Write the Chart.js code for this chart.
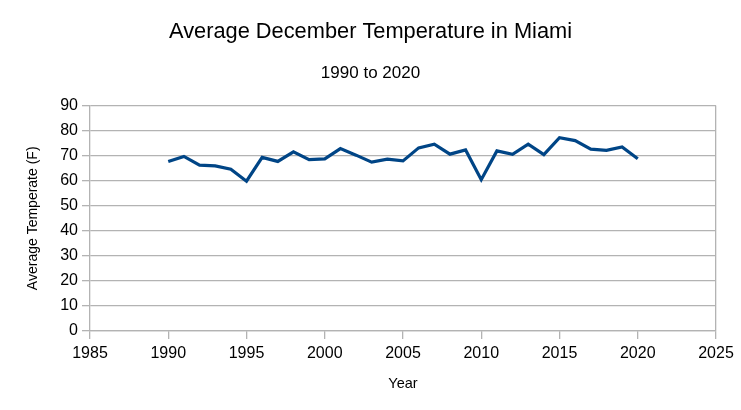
<html>
<head>
<script src="https://cdn.jsdelivr.net/npm/chart.js@4.4.0/dist/chart.umd.min.js"></script>
<style>
  body { margin: 0; background: #fff; }
  #wrap { width: 741px; height: 410px; }
</style>
</head>
<body>
<div id="wrap"><canvas id="line-chart"></canvas></div>

<script>
// data
var years = [1990, 1991, 1992, 1993, 1994, 1995, 1996, 1997, 1998, 1999,
             2000, 2001, 2002, 2003, 2004, 2005, 2006, 2007, 2008, 2009,
             2010, 2011, 2012, 2013, 2014, 2015, 2016, 2017, 2018, 2019, 2020]
var temps = [67.7, 69.7, 66.2, 65.9, 64.6, 59.8, 69.3, 67.7, 71.5, 68.4,
             68.7, 72.8, 70.2, 67.4, 68.6, 67.9, 73.1, 74.6, 70.6, 72.3,
             60.4, 71.9, 70.5, 74.6, 70.4, 77.2, 76.0, 72.6, 72.1, 73.5, 68.8]
var yTicks = [0, 10, 20, 30, 40, 50, 60, 70, 80, 90]
var xTicks = [1985, 1990, 1995, 2000, 2005, 2010, 2015, 2020, 2025]

var gridGray = "#b3b3b3"
var fam = "'Liberation Sans', Arial, sans-serif"

var points = []
for (var i = 0; i < years.length; i++) {
  points.push({x: years[i], y: temps[i]})
}

Chart.defaults.font.family = fam
Chart.defaults.color = "#000"

var myChart = new Chart(document.getElementById("line-chart"), {
  type: 'line',
  data: {
    datasets: [{
      data: points,
      borderColor: "#004586",
      borderWidth: 3.2,
      pointRadius: 0,
      fill: false,
      tension: 0
    }]
  },
  options: {
    responsive: true,
    maintainAspectRatio: false,
    animation: false,
    layout: { padding: { left: 25, right: 25, top: 0, bottom: 0 } },
    plugins: {
      legend: { display: false },
      tooltip: { enabled: false },
      title: {
        display: true,
        text: "Average December Temperature in Miami",
        font: { size: 21.8, weight: 'normal' },
        color: "#000",
        padding: { top: 19, bottom: 18 }
      },
      subtitle: {
        display: true,
        text: "1990 to 2020",
        font: { size: 17, weight: 'normal' },
        color: "#000",
        padding: { top: 0, bottom: 22 }
      }
    },
    scales: {
      x: {
        type: 'linear',
        min: 1985,
        max: 2025,
        afterBuildTicks: function(scale) {
          scale.ticks = xTicks.map(function(v) { return {value: v} })
        },
        afterFit: function(scale) { scale.height = 79 },
        ticks: {
          font: { size: 16 },
          padding: 5,
          maxRotation: 0,
          callback: function(v) { return String(v) }
        },
        grid: {
          color: function(ctx) {
            return (ctx.tick && ctx.tick.value === 2025) ? gridGray : 'rgba(0,0,0,0)'
          },
          tickColor: gridGray,
          tickLength: 8,
          lineWidth: 1.3
        },
        border: { color: gridGray, width: 1.3 },
        title: {
          display: true,
          text: "Year",
          font: { size: 14.5 },
          padding: { top: 0, bottom: 17 }
        }
      },
      y: {
        min: 0,
        max: 90,
        afterBuildTicks: function(scale) {
          scale.ticks = yTicks.map(function(v) { return {value: v} })
        },
        afterFit: function(scale) { scale.width = 65 },
        ticks: {
          font: { size: 16 },
          padding: 4
        },
        grid: {
          color: gridGray,
          tickColor: gridGray,
          tickLength: 8,
          lineWidth: 1.3
        },
        border: { color: gridGray, width: 1.3 },
        title: {
          display: true,
          text: "Average Temperate (F)",
          font: { size: 14 },
          padding: { top: 0, bottom: 0 }
        }
      }
    }
  }
});
</script>
</body>
</html>
